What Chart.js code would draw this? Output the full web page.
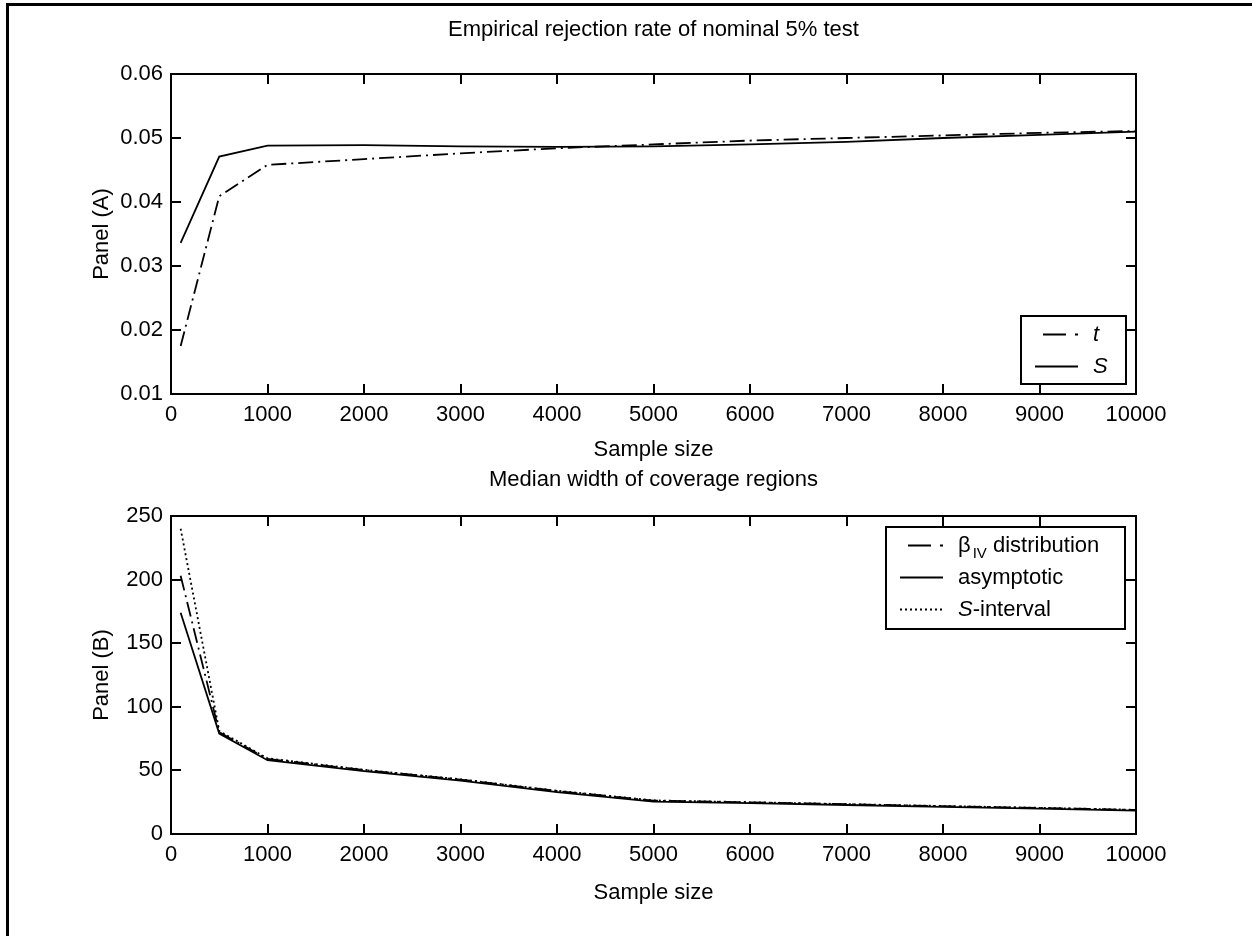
<!DOCTYPE html>
<html>
<head>
<meta charset="utf-8">
<script src="https://cdn.jsdelivr.net/npm/chart.js@4.4.1/dist/chart.umd.min.js"></script>
<style>
  html, body { margin: 0; padding: 0; background: #fff; }
  body { width: 1252px; height: 936px; position: relative; overflow: hidden; }
  #frame { position: absolute; left: 6px; top: 3px; width: 1300px; height: 1000px;
           border-left: 3px solid #000; border-top: 3px solid #000; }
  canvas { position: absolute; left: 0; }
  #panelA { top: 0; }
  #panelB { top: 440px; }
</style>
</head>
<body>
<div id="frame"></div>
<canvas id="panelA" width="1252" height="470"></canvas>
<canvas id="panelB" width="1252" height="496"></canvas>
<script>
// sample sizes used in the simulation
const sampleSize = [100, 500, 1000, 2000, 3000, 4000, 5000, 6000, 7000, 8000, 9000, 10000];

// Panel (A): empirical rejection rate
const rejectT = [0.0175, 0.0409, 0.0458, 0.0467, 0.0476, 0.0484, 0.0490, 0.0496, 0.0500, 0.0504, 0.0508, 0.0511];
const rejectS = [0.0336, 0.0471, 0.0488, 0.0489, 0.0487, 0.0486, 0.0487, 0.0490, 0.0494, 0.0500, 0.0505, 0.0510];

// Panel (B): median width of coverage regions
const widthBetaIV = [203, 80, 59, 50.3, 42.8, 33.8, 26.2, 24.9, 23.4, 21.9, 20.5, 18.9];
const widthAsymptotic = [174, 79, 58, 49.5, 42, 33, 25.5, 24.2, 22.8, 21.3, 19.9, 18.3];
const widthSInterval = [240, 81, 59.5, 50.5, 43, 34, 26.4, 25, 23.5, 22, 20.6, 19];

// tick labels
const xTickValues = [0, 1000, 2000, 3000, 4000, 5000, 6000, 7000, 8000, 9000, 10000];
const yTickValuesA = [0.01, 0.02, 0.03, 0.04, 0.05, 0.06];
const yTickValuesB = [0, 50, 100, 150, 200, 250];

// legend texts (pieces so italic / subscript parts stay real text)
const legendA = [
    [{text: 't', italic: true}],
    [{text: 'S', italic: true}]
];
const legendB = [
    [{text: 'β'}, {text: 'IV', sub: true}, {text: ' distribution'}],
    [{text: 'asymptotic'}],
    [{text: 'S', italic: true}, {text: '-interval'}]
];

const FONT = '"Liberation Sans", Arial, sans-serif';
const DASHDOT = [15, 5, 2, 5];
const DOTTED = [2, 3];

Chart.defaults.font.family = FONT;
Chart.defaults.font.size = 22;
Chart.defaults.color = '#000';

function pairs(xs, ys) {
    return xs.map((x, i) => ({x: x, y: ys[i]}));
}

function fixedTicks(values) {
    return (scale) => { scale.ticks = values.map((v) => ({value: v})); };
}

// box around the axes plus matlab style inward ticks on all four sides
const boxAxes = {
    id: 'boxAxes',
    afterDraw(chart) {
        const {ctx, chartArea: a, scales} = chart;
        const len = 10;
        ctx.save();
        ctx.strokeStyle = '#000';
        ctx.lineWidth = 2;
        ctx.strokeRect(a.left, a.top, a.right - a.left, a.bottom - a.top);
        ctx.beginPath();
        scales.x.ticks.forEach((t) => {
            const px = Math.round(scales.x.getPixelForValue(t.value));
            ctx.moveTo(px, a.bottom); ctx.lineTo(px, a.bottom - len);
            ctx.moveTo(px, a.top); ctx.lineTo(px, a.top + len);
        });
        scales.y.ticks.forEach((t) => {
            const py = Math.round(scales.y.getPixelForValue(t.value));
            ctx.moveTo(a.left, py); ctx.lineTo(a.left + len, py);
            ctx.moveTo(a.right, py); ctx.lineTo(a.right - len, py);
        });
        ctx.stroke();
        ctx.restore();
    }
};

// legend drawn as a boxed table inside the axes
const boxLegend = {
    id: 'boxLegend',
    afterDraw(chart, args, opts) {
        if (!opts.entries) return;
        const {ctx, chartArea: a} = chart;
        const rows = opts.entries.length;
        const h = opts.firstRow + opts.rowGap * (rows - 1) + opts.lastPad;
        const left = a.right - opts.inset - opts.width;
        const top = opts.corner === 'top' ? a.top + opts.inset : a.bottom - opts.inset - h;
        ctx.save();
        ctx.fillStyle = '#fff';
        ctx.fillRect(left, top, opts.width, h);
        ctx.strokeStyle = '#000';
        ctx.lineWidth = 2;
        ctx.strokeRect(left, top, opts.width, h);
        opts.entries.forEach((pieces, i) => {
            const ds = chart.data.datasets[i];
            const y = top + opts.firstRow + opts.rowGap * i;
            ctx.lineWidth = ds.borderWidth;
            ctx.beginPath();
            if (ds.borderDash === DASHDOT) {
                // matlab draws the dash-dot sample as "— ·"
                ctx.moveTo(left + 22, y); ctx.lineTo(left + 45, y);
                ctx.moveTo(left + 54, y); ctx.lineTo(left + 57, y);
            } else {
                ctx.setLineDash(ds.borderDash || []);
                ctx.moveTo(left + 14, y); ctx.lineTo(left + 57, y);
            }
            ctx.stroke();
            ctx.setLineDash([]);
            let x = left + 72;
            ctx.fillStyle = '#000';
            ctx.textBaseline = 'middle';
            ctx.textAlign = 'left';
            pieces.forEach((p) => {
                ctx.font = (p.italic ? 'italic ' : '') + (p.sub ? '15px ' : '22px ') + FONT;
                const dy = p.sub ? 8 : 0;
                if (p.sub) x += 2;
                ctx.fillText(p.text, x, y + dy);
                x += ctx.measureText(p.text).width;
            });
        });
        ctx.restore();
    }
};

function makePanel(id, cfg) {
    return new Chart(document.getElementById(id), {
        type: 'line',
        data: {datasets: cfg.datasets},
        options: {
            responsive: false,
            animation: false,
            devicePixelRatio: 1,
            layout: {padding: {left: 0, right: 116, top: 0, bottom: 0}},
            elements: {point: {radius: 0}, line: {tension: 0}},
            plugins: {
                legend: {display: false},
                tooltip: {enabled: false},
                title: {
                    display: true,
                    text: cfg.title,
                    fullSize: false,
                    font: {size: 22, weight: 'normal'},
                    padding: {top: cfg.titleTop, bottom: cfg.titleBottom}
                },
                boxLegend: cfg.legend
            },
            scales: {
                x: {
                    type: 'linear',
                    min: 0,
                    max: 10000,
                    afterBuildTicks: fixedTicks(xTickValues),
                    afterFit: (s) => { s.height = cfg.xHeight; },
                    grid: {display: false, drawTicks: false},
                    border: {display: false},
                    ticks: {padding: 8, maxRotation: 0, autoSkip: false, callback: (v) => String(v)},
                    title: {display: true, text: 'Sample size', padding: {top: 0, bottom: cfg.xTitlePad}}
                },
                y: {
                    type: 'linear',
                    min: cfg.yMin,
                    max: cfg.yMax,
                    afterBuildTicks: fixedTicks(cfg.yTicks),
                    afterFit: (s) => { s.width = 171; },
                    grid: {display: false, drawTicks: false},
                    border: {display: false},
                    ticks: {padding: 8, autoSkip: false, callback: cfg.yFormat},
                    title: {display: true, text: cfg.yTitle, padding: {top: 89, bottom: 0}}
                }
            }
        },
        plugins: [boxAxes, boxLegend]
    });
}

makePanel('panelA', {
    title: 'Empirical rejection rate of nominal 5% test',
    titleTop: 17, titleBottom: 30.6,
    xHeight: 76, xTitlePad: 6.8,
    yMin: 0.01, yMax: 0.06, yTicks: yTickValuesA,
    yFormat: (v) => v.toFixed(2),
    yTitle: 'Panel (A)',
    datasets: [
        {label: 't', data: pairs(sampleSize, rejectT), borderColor: '#000', borderWidth: 1.8, borderDash: DASHDOT},
        {label: 'S', data: pairs(sampleSize, rejectS), borderColor: '#000', borderWidth: 1.8}
    ],
    legend: {entries: legendA, corner: 'bottom', inset: 10, width: 105, firstRow: 18.5, rowGap: 32, lastPad: 17.5}
});

makePanel('panelB', {
    title: 'Median width of coverage regions',
    titleTop: 26.8, titleBottom: 22.8,
    xHeight: 102, xTitlePad: 29.8,
    yMin: 0, yMax: 250, yTicks: yTickValuesB,
    yFormat: (v) => String(v),
    yTitle: 'Panel (B)',
    datasets: [
        {label: 'beta IV distribution', data: pairs(sampleSize, widthBetaIV), borderColor: '#000', borderWidth: 1.8, borderDash: DASHDOT},
        {label: 'asymptotic', data: pairs(sampleSize, widthAsymptotic), borderColor: '#000', borderWidth: 1.8},
        {label: 'S-interval', data: pairs(sampleSize, widthSInterval), borderColor: '#000', borderWidth: 1.8, borderDash: DOTTED}
    ],
    legend: {entries: legendB, corner: 'top', inset: 11, width: 239, firstRow: 18.5, rowGap: 32, lastPad: 19.5}
});
</script>
</body>
</html>
